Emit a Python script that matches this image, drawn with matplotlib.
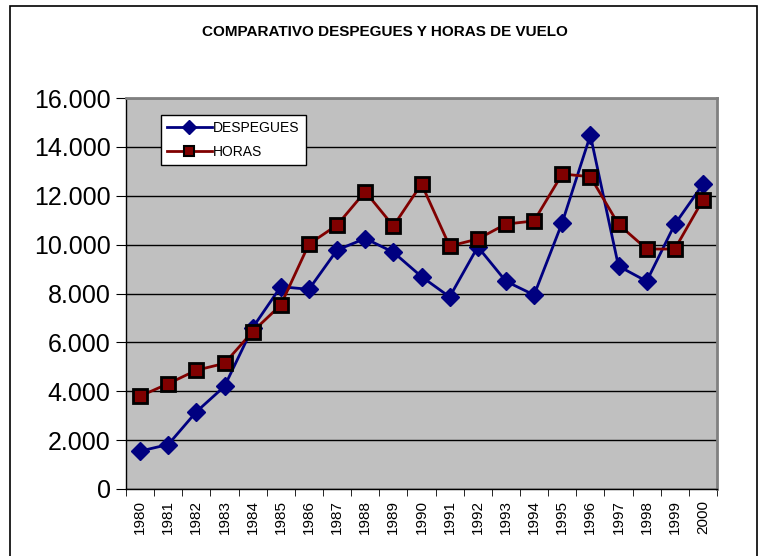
import matplotlib.pyplot as plt
import matplotlib.patches as mpatches
from matplotlib.ticker import FuncFormatter, FixedLocator

# Data
years = [str(y) for y in range(1980, 2001)]
despegues = [1550, 1820, 3160, 4200, 6600, 8280, 8170, 9780, 10250, 9690, 8690,
             7860, 9910, 8500, 7940, 10900, 14480, 9120, 8500, 10830, 12470]
horas = [3800, 4310, 4860, 5140, 6440, 7530, 10020, 10800, 12170, 10760, 12480,
         9940, 10230, 10840, 10970, 12890, 12780, 10830, 9820, 9820, 11830]

plt.rcParams['font.family'] = ['Liberation Sans', 'DejaVu Sans']

fig = plt.figure(figsize=(7.63, 5.56), dpi=100)
ax = fig.add_axes([126/763, 67/556, 591/763, 391/556])
ax.set_facecolor('#C0C0C0')

x = list(range(len(years)))
ax.plot(x, despegues, color='#000080', lw=2, marker='D', ms=9,
        mfc='#000080', mec='#000080', label='DESPEGUES', zorder=3)
ax.plot(x, horas, color='#800000', lw=2, marker='s', ms=10,
        mfc='#800000', mec='black', mew=2, label='HORAS', zorder=4)

ax.set_xlim(-0.5, len(years) - 0.5)
ax.set_ylim(0, 16000)
ax.set_yticks(range(0, 16001, 2000))
ax.yaxis.set_major_formatter(FuncFormatter(lambda v, p: f"{int(v):,}".replace(',', '.')))
ax.grid(axis='y', color='black', lw=1)
ax.set_axisbelow(True)

ax.set_xticks(x)
ax.set_xticklabels(years, rotation=90, fontsize=11)
ax.xaxis.set_minor_locator(FixedLocator([i - 0.5 for i in range(len(years) + 1)]))
ax.tick_params(axis='x', which='major', length=0, pad=8)
ax.tick_params(axis='x', which='minor', length=5, color='black')
ax.tick_params(axis='y', labelsize=18, length=7, color='black', pad=4)

for s in ['top', 'right']:
    ax.spines[s].set_color('#808080')
    ax.spines[s].set_linewidth(2)
for s in ['left', 'bottom']:
    ax.spines[s].set_color('black')
    ax.spines[s].set_linewidth(1)

leg = ax.legend(loc='upper left', bbox_to_anchor=(35/591, 1 - 17/391), fontsize=10,
                frameon=True, fancybox=False, edgecolor='black', framealpha=1,
                borderpad=0.45, handlelength=3.2, handletextpad=0.1, labelspacing=0.7,
                borderaxespad=0)
leg.get_frame().set_linewidth(1)
leg.legend_handles[0].set_markersize(7)
leg.legend_handles[1].set_markersize(7)
leg.legend_handles[1].set_markeredgewidth(1.5)

fig.text(385/763, 1 - 32/556, 'COMPARATIVO DESPEGUES Y HORAS DE VUELO',
         ha='center', va='center', fontsize=11, fontweight='bold')

# outer chart border
fig.patches.append(mpatches.Rectangle((10/763, -0.02), 747/763, 1.02 - 6/556,
                                      transform=fig.transFigure, fill=False,
                                      edgecolor='black', lw=1.2))

fig.savefig('out.png', dpi=100)
